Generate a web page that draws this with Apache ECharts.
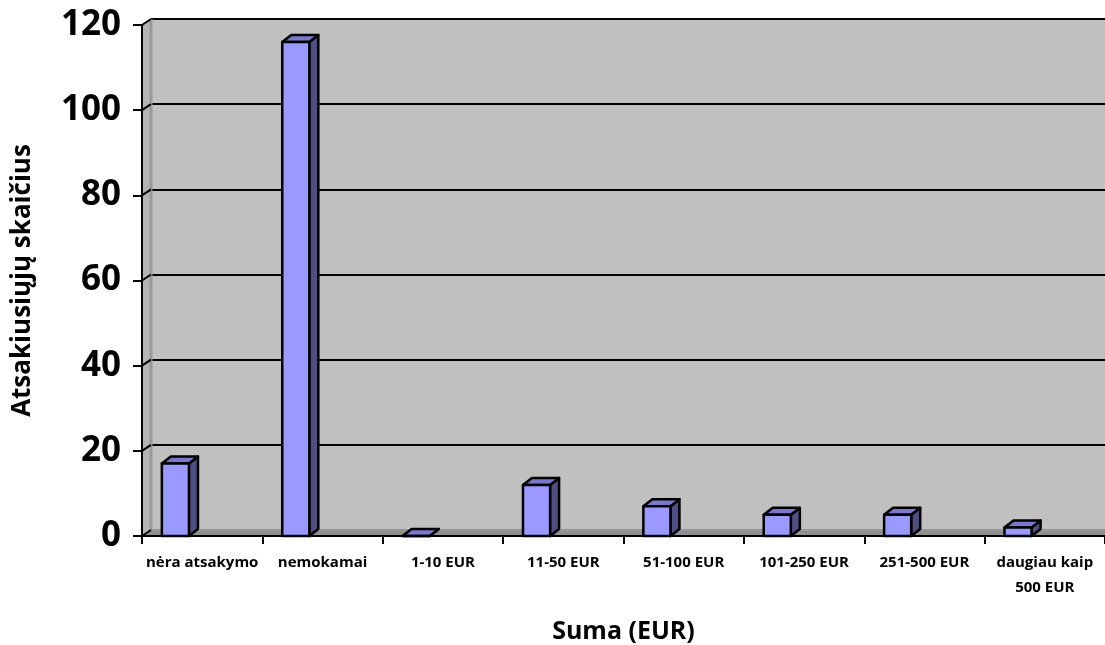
<!DOCTYPE html>
<html>
<head>
<meta charset="utf-8">
<title>Atsakiusiųjų skaičius pagal sumą</title>
<script src="https://cdn.jsdelivr.net/npm/echarts@6/dist/echarts.min.js"></script>
<style>
  html, body { margin: 0; padding: 0; background: #ffffff; }
  #chart { width: 1105px; height: 645px; }
</style>
</head>
<body>
<div id="chart"></div>
<script>
// Survey answers: how much respondents would pay (EUR)
const categories = ['nėra atsakymo', 'nemokamai', '1-10 EUR', '11-50 EUR', '51-100 EUR', '101-250 EUR', '251-500 EUR', 'daugiau kaip\n500 EUR'];
const counts = [17, 116, 0, 12, 7, 5, 5, 2];
const yTicks = [0, 20, 40, 60, 80, 100, 120];

const FONT = '"Open Sans", Lato, sans-serif';
// depth of the pseudo-3D look (pixels back and up)
const DEPTH_X = 9, DEPTH_Y = -6;
const BAR_DX = 9, BAR_DY = -7;

const chart = echarts.init(document.getElementById('chart'));

// Side wall and floor of the box, drawn from the front grid's coordinate system
function renderWalls(params, api) {
  const cs = params.coordSys;
  const x0 = cs.x, x1 = cs.x + cs.width;
  const yBottom = api.coord([0, 0])[1];
  const yTop = api.coord([0, 120])[1];
  const children = [];
  // floor
  children.push({
    type: 'polygon',
    shape: { points: [[x0, yBottom], [x1, yBottom], [x1 + DEPTH_X, yBottom + DEPTH_Y], [x0 + DEPTH_X, yBottom + DEPTH_Y]] },
    style: { fill: '#8f8f8f', stroke: '#a8a8a8', lineWidth: 1 }
  });
  // left wall
  children.push({
    type: 'polygon',
    shape: { points: [[x0, yBottom], [x0, yTop], [x0 + DEPTH_X, yTop + DEPTH_Y], [x0 + DEPTH_X, yBottom + DEPTH_Y]] },
    style: { fill: '#b4b4b4', stroke: null }
  });
  children.push({
    type: 'line',
    shape: { x1: x0 + DEPTH_X, y1: yTop + DEPTH_Y, x2: x0 + DEPTH_X, y2: yBottom + DEPTH_Y },
    style: { stroke: '#9a9a9a', lineWidth: 3 }
  });
  // tick diagonals running into the back wall
  yTicks.forEach(function (t) {
    const y = api.coord([0, t])[1];
    children.push({
      type: 'line',
      shape: { x1: x0, y1: y, x2: x0 + DEPTH_X, y2: y + DEPTH_Y },
      style: { stroke: '#000', lineWidth: 2 }
    });
  });
  return { type: 'group', children: children };
}

// One box-shaped column: front face, right side and top
function renderBar(params, api) {
  const idx = api.value(0);
  const val = api.value(1);
  const top = api.coord([idx, val]);
  const base = api.coord([idx, 0]);
  const w = api.size([1, 0])[0];
  const xl = top[0] - 0.335 * w;
  const xr = top[0] - 0.11 * w;
  const yt = top[1], yb = base[1];
  const stroke = { stroke: '#000', lineWidth: 2.5, lineJoin: 'round' };
  return {
    type: 'group',
    children: [
      {
        type: 'polygon',
        shape: { points: [[xr, yt], [xr + BAR_DX, yt + BAR_DY], [xr + BAR_DX, yb + BAR_DY], [xr, yb]] },
        style: Object.assign({ fill: '#4f4f82' }, stroke)
      },
      {
        type: 'polygon',
        shape: { points: [[xl, yt], [xl + BAR_DX, yt + BAR_DY], [xr + BAR_DX, yt + BAR_DY], [xr, yt]] },
        style: Object.assign({ fill: '#7878cc' }, stroke)
      },
      {
        type: 'rect',
        shape: { x: xl, y: yt, width: xr - xl, height: yb - yt },
        style: Object.assign({ fill: '#9999ff' }, stroke)
      }
    ]
  };
}

const option = {
  backgroundColor: '#ffffff',
  animation: false,
  grid: [
    // front plane: axes, labels, columns
    { left: 142, right: 0, top: 25, bottom: 109, show: false, outerBoundsMode: 'none', containLabel: false },
    // back wall with its gridlines
    { left: 142 + DEPTH_X, right: 0, top: 25 + DEPTH_Y, bottom: 109 - DEPTH_Y, show: true, backgroundColor: '#c0c0c0', borderWidth: 0, outerBoundsMode: 'none', containLabel: false }
  ],
  xAxis: [
    {
      type: 'category',
      gridIndex: 0,
      data: categories,
      boundaryGap: true,
      name: 'Suma (EUR)',
      nameLocation: 'middle',
      nameGap: 83,
      nameTextStyle: { fontFamily: FONT, fontWeight: 'bold', fontSize: 25, color: '#000' },
      axisLine: { show: true, lineStyle: { color: '#000', width: 2 } },
      axisTick: { show: true, interval: 0, length: 8, lineStyle: { color: '#000', width: 2 } },
      axisLabel: { interval: 0, margin: 14, fontFamily: FONT, fontWeight: 'bold', fontSize: 15, lineHeight: 25, color: '#000' },
      splitLine: { show: false },
      z: 10
    },
    {
      type: 'category',
      gridIndex: 1,
      data: categories,
      position: 'top',
      axisLine: { show: true, lineStyle: { color: '#808080', width: 3 } },
      axisTick: { show: false },
      axisLabel: { show: false },
      splitLine: { show: false }
    }
  ],
  yAxis: [
    {
      type: 'value',
      gridIndex: 0,
      min: 0,
      max: 120,
      interval: 20,
      name: 'Atsakiusiųjų skaičius',
      nameLocation: 'middle',
      nameGap: 106,
      nameRotate: 90,
      nameTextStyle: { fontFamily: FONT, fontWeight: 'bold', fontSize: 26, color: '#000' },
      axisLine: { show: true, lineStyle: { color: '#000', width: 2 } },
      axisTick: { show: true, length: 9, lineStyle: { color: '#000', width: 2 } },
      axisLabel: { margin: 21, fontFamily: FONT, fontWeight: 'bold', fontSize: 35, color: '#000' },
      splitLine: { show: false },
      z: 10
    },
    {
      type: 'value',
      gridIndex: 1,
      min: 0,
      max: 120,
      interval: 20,
      axisLine: { show: false },
      axisTick: { show: false },
      axisLabel: { show: false },
      splitLine: { show: true, lineStyle: { color: '#000', width: 2 } }
    }
  ],
  series: [
    {
      type: 'custom',
      name: 'walls',
      xAxisIndex: 0,
      yAxisIndex: 0,
      data: [[0, 0]],
      renderItem: renderWalls,
      silent: true,
      clip: false,
      z: 1
    },
    {
      type: 'custom',
      name: 'Atsakiusiųjų skaičius',
      xAxisIndex: 0,
      yAxisIndex: 0,
      data: counts.map(function (v, i) { return [i, v]; }),
      encode: { x: 0, y: 1 },
      renderItem: renderBar,
      clip: false,
      z: 5
    }
  ]
};

chart.setOption(option);
</script>
</body>
</html>
